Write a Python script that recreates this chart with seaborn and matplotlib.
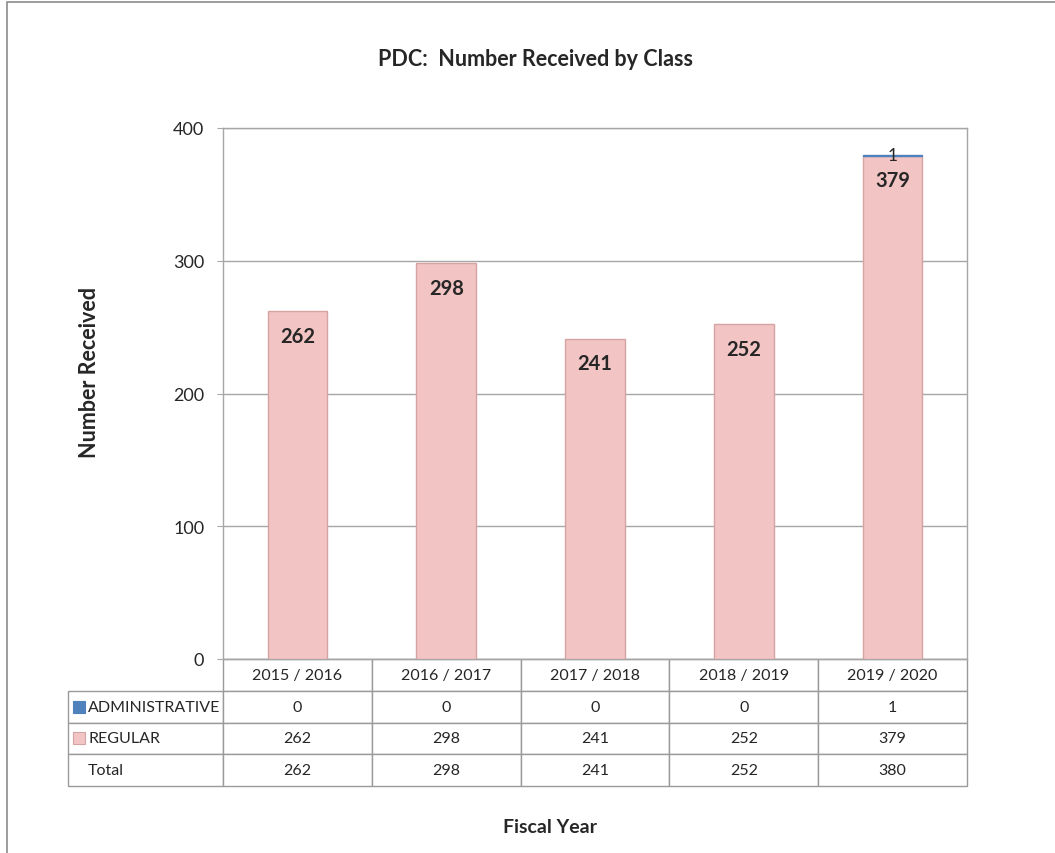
import matplotlib
matplotlib.use("Agg")
import matplotlib.pyplot as plt
from matplotlib.patches import Rectangle
import pandas as pd
import seaborn as sns

# donnees
years = ["2015 / 2016", "2016 / 2017", "2017 / 2018", "2018 / 2019", "2019 / 2020"]
administrative = [0, 0, 0, 0, 1]
regular = [262, 298, 241, 252, 379]
total = [a + r for a, r in zip(administrative, regular)]
row_names = ["ADMINISTRATIVE", "REGULAR", "Total"]

pink = "#F2C4C4"
pink_edge = "#D6A3A3"
blue = "#4F81BD"
grey = "#A6A6A6"

sns.set_style("white")
plt.rcParams["font.family"] = ["Lato", "DejaVu Sans"]

df = pd.DataFrame({"Fiscal Year": years, "Regular": regular,
                   "Administrative": administrative, "Total": total})

W, H = 1055, 854
fig = plt.figure(figsize=(W / 100, H / 100), dpi=100)
ax = fig.add_axes([223 / W, 1 - 660 / H, (967 - 223) / W, (660 - 129) / H])

# barres empilees: regular (rose) puis administrative (bleu) au dessus
sns.barplot(data=df, x="Fiscal Year", y="Regular", color=pink, width=0.4,
            saturation=1, ax=ax, zorder=3, edgecolor=pink_edge, linewidth=1)
sns.barplot(data=df, x="Fiscal Year", y="Administrative", bottom=df["Regular"],
            color=blue, width=0.4, saturation=1, ax=ax, zorder=4,
            edgecolor=blue, linewidth=1)
# pas de trait pour les segments vides
for p in ax.containers[-1]:
    if p.get_height() == 0:
        p.set_linewidth(0)

ax.set_xlim(-0.5, len(years) - 0.5)
ax.set_ylim(0, 400)
ax.set_yticks([0, 100, 200, 300, 400])
ax.yaxis.grid(True, color=grey, linewidth=1)
ax.set_axisbelow(True)
for s in ax.spines.values():
    s.set_visible(True)
    s.set_color(grey)
    s.set_linewidth(1)
ax.tick_params(axis="y", which="major", length=4.5, color=grey, left=True,
               labelsize=13, pad=9)
ax.tick_params(axis="x", bottom=False, labelbottom=False)
ax.set_xlabel("")
ax.set_ylabel("")

# etiquettes des barres
for i, v in enumerate(regular):
    ax.annotate(str(v), (i, v), xytext=(0, -17.5), textcoords="offset points",
                ha="center", va="center", fontsize=14.5, fontweight="bold", zorder=5)
for i, v in enumerate(administrative):
    if v > 0:
        ax.annotate(str(v), (i, total[i]), ha="center", va="center",
                    fontsize=12.5, zorder=5)

# tableau de donnees sous le graphique (bbox = grille des donnees seulement)
label_w = (223 - 68) / 744
tab_h = (787 - 660) / 531
tbl = ax.table(cellText=[administrative, regular, total], rowLabels=row_names,
               colLabels=years, bbox=[0, -tab_h, 1, tab_h], cellLoc="center")
tbl._autoColumns = []
tbl.auto_set_font_size(False)
tbl.set_fontsize(11.5)
for (r, c), cell in tbl.get_celld().items():
    cell.set_edgecolor("#9A9A9A")
    cell.set_linewidth(1)
    if c == -1:
        cell.set_width(label_w)
        cell._loc = "left"
        cell.PAD = 20 / 155
    else:
        cell.set_width(1 / len(years))

# petits carres de legende dans le tableau
row_h = tab_h / 4
for k, col in enumerate([blue, pink]):
    yc = -row_h * (1.5 + k)
    ax.add_patch(Rectangle((-label_w + 5 / 744, yc - 6 / 531), 12 / 744, 12 / 531,
                           transform=ax.transAxes, clip_on=False,
                           facecolor=col, edgecolor=pink_edge if k else blue,
                           linewidth=0.8))

# titres
fig.text(536 / W, 1 - 60 / H, "PDC:  Number Received by Class", ha="center",
         va="center", fontsize=15.5, fontweight="bold")
fig.text(89 / W, 1 - 372 / H, "Number Received", rotation=90, ha="center",
         va="center", fontsize=15.5, fontweight="bold")
fig.text(550 / W, 1 - 828 / H, "Fiscal Year", ha="center", va="center",
         fontsize=14, fontweight="bold")

# cadre exterieur (haut et gauche visibles)
fig.add_artist(Rectangle((7 / W, -0.05), 1.2, 1 - 3 / H + 0.05,
                         transform=fig.transFigure, fill=False,
                         edgecolor="#8C8C8C", linewidth=1.2))

fig.savefig("out.png", dpi=100)
